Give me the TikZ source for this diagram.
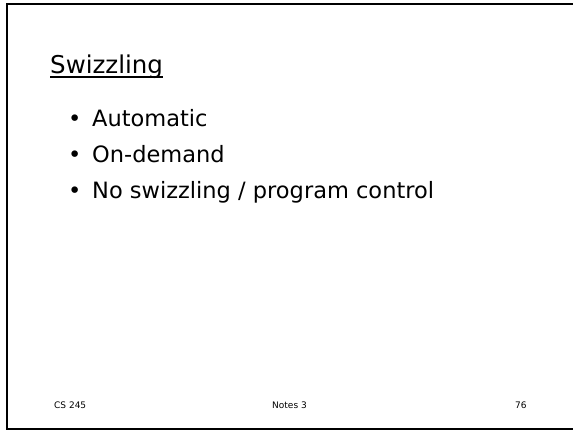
\documentclass[tikz,border=0pt]{standalone}
\usepackage{fontspec}
\setmainfont{DejaVu Sans}
\usetikzlibrary{positioning}

\begin{document}
\begin{tikzpicture}[x=1pt,y=-1pt,
	heading/.style={anchor=base west,inner sep=0pt,font=\fontsize{24.5}{29}\selectfont},
	item/.style={anchor=base west,inner sep=0pt,font=\fontsize{22.5}{27}\selectfont},
	foot/.style={anchor=base west,inner sep=0pt,font=\fontsize{9}{11}\selectfont}]
		
		%Page
		\useasboundingbox (0,0) rectangle (573,431);
		\clip (0,0) rectangle (573,431);
		\fill[white] (0,0) rectangle (573,431);
		\draw[line width=2pt] (590,4) -- (6.5,4) -- (6.5,429) -- (590,429);
		
		%Title
		\node[heading] (title) at (50,73){Swizzling};
		\draw[line width=1.6pt] ([yshift=-4pt]title.base west) -- ([yshift=-4pt]title.base east);
		
		%Items
		\node[item] (auto) at (68,126){\makebox[24pt][l]{\textbullet}Automatic};
		\node[item] (demand) at (68,162){\makebox[24pt][l]{\textbullet}On-demand};
		\node[item] (none) at (68,198){\makebox[24pt][l]{\textbullet}No swizzling / program control};
		
		%Footer
		\node[foot] (course) at (54,408.5){CS 245};
		\node[foot] (notes) at (272,408.5){Notes 3};
		\node[foot] (page) at (515,408.5){76};
		
\end{tikzpicture}
\end{document}
